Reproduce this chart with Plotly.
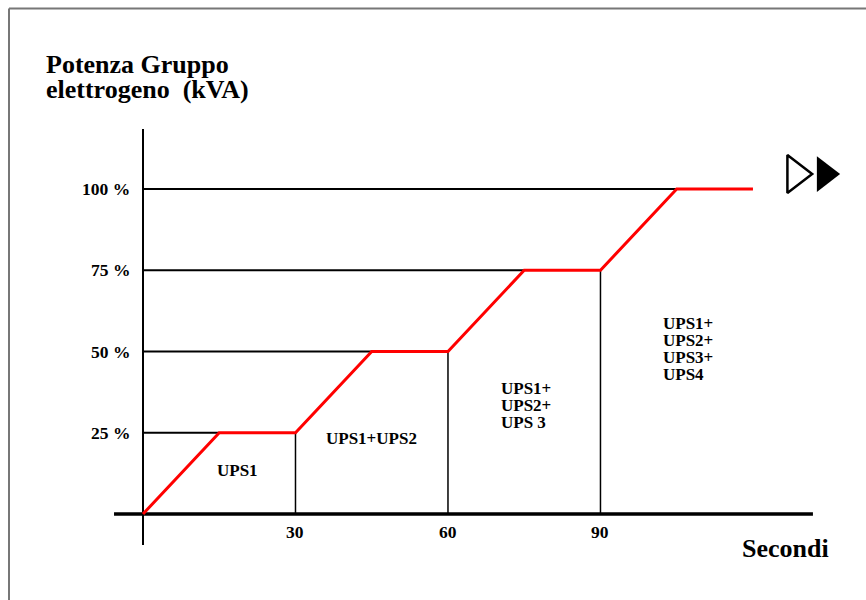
import plotly.graph_objects as go

# ---- data ----
time_s = [0, 15, 30, 45, 60, 75, 90, 105, 120]
power_pct = [0, 25, 25, 50, 50, 75, 75, 100, 100]

levels = [25, 50, 75, 100]
level_labels = ["25 %", "50 %", "75 %", "100 %"]
level_ends = [15, 45, 75, 105]

marks = [30, 60, 90]
mark_labels = ["30", "60", "90"]
mark_heights = [25, 50, 75]

phase_lines = [["UPS1"], ["UPS1+UPS2"], ["UPS1+", "UPS2+", "UPS 3"],
               ["UPS1+", "UPS2+", "UPS3+", "UPS4"]]
phase_x = [18.5, 44.9, 70.2, 102.1]
phase_y = [13.5, 23.1, 38.6, 58.7]
phase_anchor = ["center", "center", "left", "left"]

title_lines = ["Potenza Gruppo", "elettrogeno  (kVA)"]
x_title = "Secondi"

# ---- layout geometry ----
W, H = 866, 600
x0_px, px_per_s = 143, 5.083
y0_px, px_per_pct = 514, 3.25
xr = [-x0_px / px_per_s, (W - x0_px) / px_per_s]
yr = [-(H - y0_px) / px_per_pct, y0_px / px_per_pct]

FONT = "Liberation Serif, Times New Roman, serif"

fig = go.Figure()

# horizontal level lines
for lv, le in zip(levels, level_ends):
    fig.add_trace(go.Scatter(x=[0, le], y=[lv, lv], mode="lines",
                             line=dict(color="black", width=2)))
# vertical markers
for m, h in zip(marks, mark_heights):
    fig.add_trace(go.Scatter(x=[m, m], y=[0, h], mode="lines",
                             line=dict(color="black", width=1.5)))
# axes
fig.add_trace(go.Scatter(x=[-5.7, 131.8], y=[0, 0], mode="lines",
                         line=dict(color="black", width=3.5)))
fig.add_trace(go.Scatter(x=[0, 0], y=[-9.5, 118.5], mode="lines",
                         line=dict(color="black", width=2)))
# power ramp
fig.add_trace(go.Scatter(x=time_s, y=power_pct, mode="lines",
                         line=dict(color="#ff0000", width=3)))
# arrows
fig.add_trace(go.Scatter(x=[128.4], y=[104.6], mode="markers",
                         marker=dict(symbol="triangle-right-open", size=33,
                                     color="black", line=dict(width=2.5, color="black"))))
fig.add_trace(go.Scatter(x=[134.1], y=[104.6], mode="markers",
                         marker=dict(symbol="triangle-right", size=31, color="black")))

ann = []
bold = dict(family=FONT, color="black", weight="bold")
for lv, lab in zip(levels, level_labels):
    ann.append(dict(x=0, y=lv, text=lab, xanchor="right", yanchor="middle",
                    xshift=-11, showarrow=False, font=dict(size=17.5, **bold)))
for m, lab in zip(marks, mark_labels):
    ann.append(dict(x=m, y=-5.5, text=lab, xanchor="center", yanchor="middle",
                    showarrow=False, font=dict(size=17.5, **bold)))
for lines, px, py, anc in zip(phase_lines, phase_x, phase_y, phase_anchor):
    for i, t in enumerate(lines):
        ann.append(dict(x=px, y=py, text=t, xanchor=anc, yanchor="middle",
                        yshift=-17 * i, showarrow=False, borderpad=0,
                        font=dict(size=17, **bold)))
for i, t in enumerate(title_lines):
    ann.append(dict(x=45 / W, y=1 - 64 / H, xref="paper", yref="paper", text=t,
                    xanchor="left", yanchor="middle", yshift=-25 * i,
                    showarrow=False, borderpad=0, font=dict(size=26, **bold)))
ann.append(dict(x=135.35, y=-10.5, text=x_title, xanchor="right", yanchor="middle",
                showarrow=False, font=dict(size=26, **bold)))

fig.update_layout(
    width=W, height=H, autosize=False,
    margin=dict(l=0, r=0, t=0, b=0),
    paper_bgcolor="white", plot_bgcolor="white",
    showlegend=False, hovermode=False,
    xaxis=dict(range=xr, visible=False, fixedrange=True),
    yaxis=dict(range=yr, visible=False, fixedrange=True),
    annotations=ann,
    shapes=[
        dict(type="line", xref="paper", yref="paper", x0=9 / W, x1=9 / W,
             y0=0, y1=1 - 8.5 / H, line=dict(color="#777777", width=2)),
        dict(type="line", xref="paper", yref="paper", x0=9 / W, x1=1,
             y0=1 - 8.5 / H, y1=1 - 8.5 / H, line=dict(color="#777777", width=2)),
    ],
)

fig.write_html("out.html", config={"displayModeBar": False},
               post_script="document.body.style.margin='0';")
